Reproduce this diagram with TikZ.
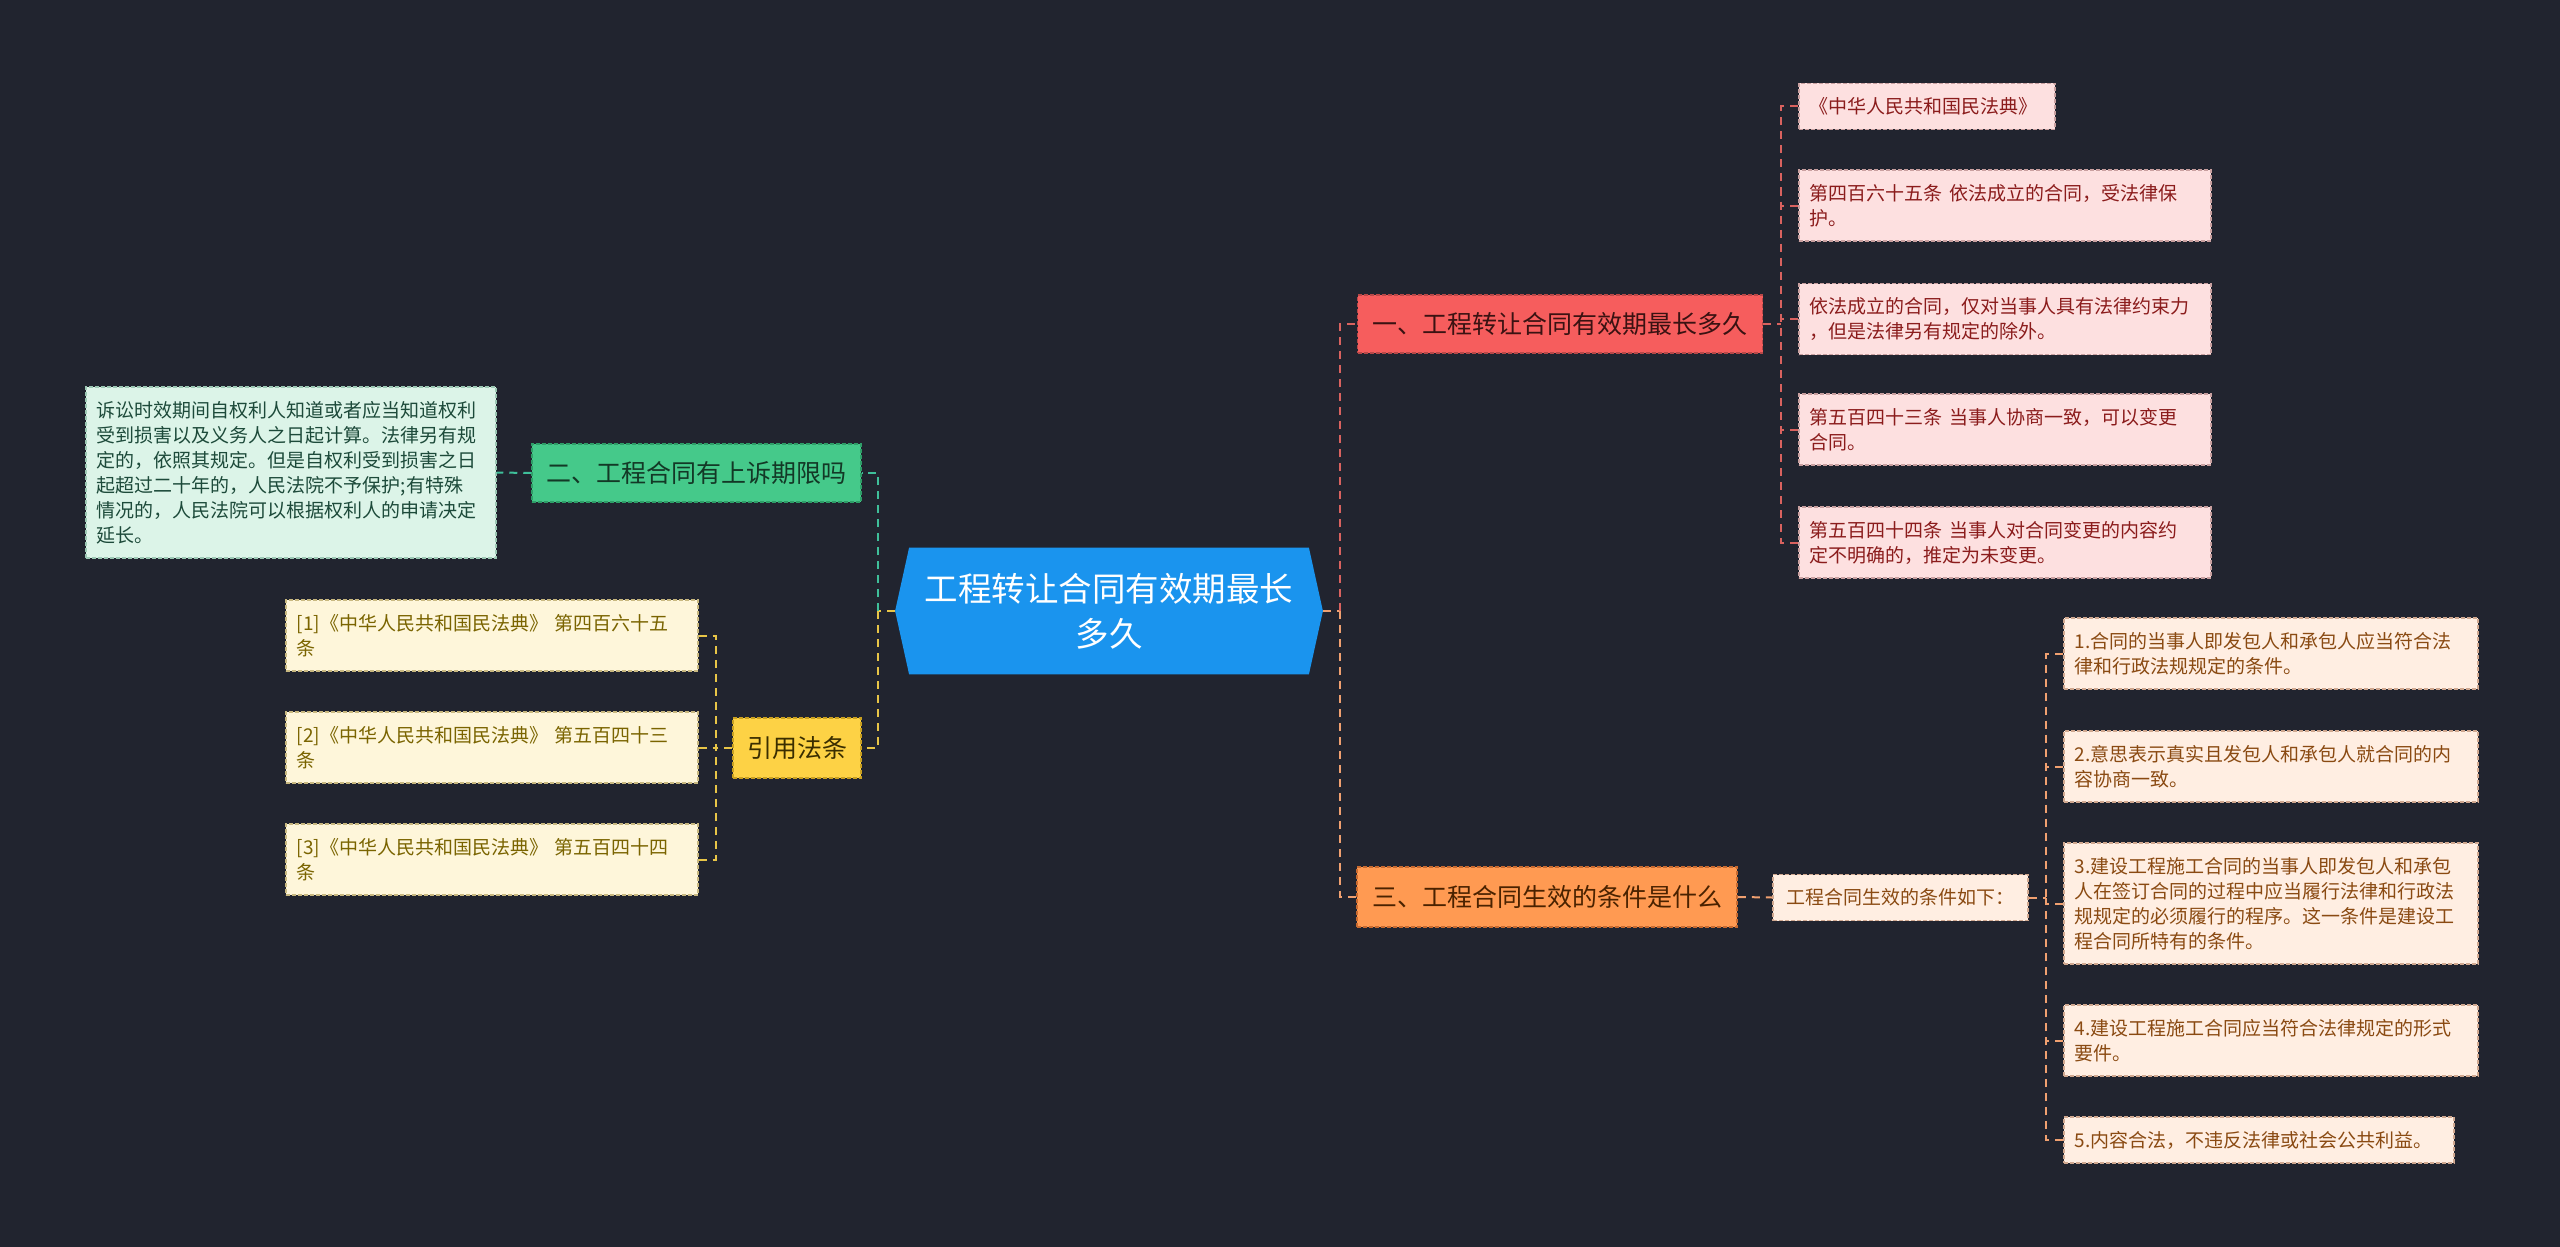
\documentclass[tikz,border=0pt]{standalone}
\usepackage{fontspec}
\setmainfont{Noto Sans CJK SC}
\usetikzlibrary{backgrounds}
\definecolor{bgc}{HTML}{21242F}
\definecolor{rootc}{HTML}{1A94EE}
\definecolor{redb}{HTML}{F65D5D}\definecolor{redl}{HTML}{FDE0E0}
\definecolor{redt}{HTML}{8B1C1C}\definecolor{redbt}{HTML}{3A1212}
\definecolor{redln}{HTML}{D9625F}\definecolor{redbd}{HTML}{B84848}\definecolor{redlbd}{HTML}{C9A0A0}
\definecolor{grnb}{HTML}{45C98A}\definecolor{grnl}{HTML}{DCF4E8}
\definecolor{grnt}{HTML}{1D4A3A}\definecolor{grnbt}{HTML}{133826}
\definecolor{grnln}{HTML}{3FBF9A}\definecolor{grnbd}{HTML}{2E9E68}\definecolor{grnlbd}{HTML}{9CC8B4}
\definecolor{ylwb}{HTML}{FDD245}\definecolor{ylwl}{HTML}{FEF6DA}
\definecolor{ylwt}{HTML}{7A6400}\definecolor{ylwbt}{HTML}{3A2E00}
\definecolor{ylwln}{HTML}{E8C547}\definecolor{ylwbd}{HTML}{C9A020}\definecolor{ylwlbd}{HTML}{C8B880}
\definecolor{orgb}{HTML}{FF9A52}\definecolor{orgl}{HTML}{FFEEE2}
\definecolor{orgt}{HTML}{8A4A12}\definecolor{orgbt}{HTML}{4A2200}
\definecolor{orgln}{HTML}{F0A070}\definecolor{orgbd}{HTML}{C86A30}\definecolor{orglbd}{HTML}{D0A890}
\begin{document}
\begin{tikzpicture}[x=0.5pt,y=-0.5pt,
  boxbase/.style={draw, line width=0.75pt, dash pattern=on 2pt off 1pt, inner sep=0pt},
  branchbox/.style={boxbase, minimum height=29pt, align=center,
    font=\fontsize{12.5pt}{15pt}\selectfont},
  leafbox/.style={boxbase, anchor=west, inner xsep=5.5pt, align=left,
    font=\fontsize{9.5pt}{12.5pt}\selectfont},
  lone/.style={leafbox, minimum height=23pt},
  ltwo/.style={leafbox, minimum height=35.5pt},
  conn/.style={line width=1pt, dash pattern=on 4pt off 3pt},
  redbranch/.style={branchbox, fill=redb, draw=redbd, text=redbt},
  redleaf/.style={fill=redl, draw=redlbd, text=redt},
  grnbranch/.style={branchbox, fill=grnb, draw=grnbd, text=grnbt},
  grnleaf/.style={fill=grnl, draw=grnlbd, text=grnt},
  ylwbranch/.style={branchbox, fill=ylwb, draw=ylwbd, text=ylwbt},
  ylwleaf/.style={fill=ylwl, draw=ylwlbd, text=ylwt},
  orgbranch/.style={branchbox, fill=orgb, draw=orgbd, text=orgbt},
  orgleaf/.style={fill=orgl, draw=orglbd, text=orgt},
  rootbox/.style={inner sep=0pt, minimum width=213.5pt, minimum height=63pt, align=center,
    text=white, font=\fontsize{16.75pt}{22.5pt}\selectfont}
]
\begin{scope}[on background layer]
\fill[bgc] (0,0) rectangle (2560,1247);
\end{scope}
\useasboundingbox (0,0) rectangle (2560,1247);

% root
\node[rootbox] (root) at (1109,611) {工程转让合同有效期最长\\多久};
\begin{scope}[on background layer]
\fill[rootc] ([xshift=7pt]root.north west) -- ([xshift=-7pt]root.north east) -- (root.east)
  -- ([xshift=-7pt]root.south east) -- ([xshift=7pt]root.south west) -- (root.west) -- cycle;
\end{scope}

% branches
\node[redbranch, minimum width=202.5pt] (b1) at (1560,324) {一、工程转让合同有效期最长多久};
\node[grnbranch, minimum width=164.5pt] (gb) at (696.5,473) {二、工程合同有上诉期限吗};
\node[ylwbranch, minimum width=64pt, minimum height=30pt] (yb) at (797,748) {引用法条};
\node[orgbranch, minimum width=190pt, minimum height=30pt] (b3) at (1547,897) {三、工程合同生效的条件是什么};
\node[leafbox, orgleaf, anchor=center, align=center, minimum width=127.5pt, minimum height=23pt] (sub) at (1900.5,897.5) {工程合同生效的条件如下：};

% red leaves
\node[lone, redleaf, text width=117pt] (r1) at (1798,106.5) {《中华人民共和国民法典》};
\node[ltwo, redleaf, text width=195pt] (r2) at (1798,205.5) {第四百六十五条 依法成立的合同，受法律保\\护。};
\node[ltwo, redleaf, text width=195pt] (r3) at (1798,319) {依法成立的合同，仅对当事人具有法律约束力\\，但是法律另有规定的除外。};
\node[ltwo, redleaf, text width=195pt] (r4) at (1798,429.5) {第五百四十三条 当事人协商一致，可以变更\\合同。};
\node[ltwo, redleaf, text width=195pt] (r5) at (1798,542.5) {第五百四十四条 当事人对合同变更的内容约\\定不明确的，推定为未变更。};

% green leaf
\node[leafbox, grnleaf, text width=194pt, minimum height=85.5pt] (g1) at (85,472.5) {诉讼时效期间自权利人知道或者应当知道权利\\受到损害以及义务人之日起计算。法律另有规\\定的，依照其规定。但是自权利受到损害之日\\起超过二十年的，人民法院不予保护;有特殊\\情况的，人民法院可以根据权利人的申请决定\\延长。};

% yellow leaves
\node[ltwo, ylwleaf, text width=195pt] (y1) at (285,635.5) {[1]《中华人民共和国民法典》 第四百六十五\\条};
\node[ltwo, ylwleaf, text width=195pt] (y2) at (285,747.5) {[2]《中华人民共和国民法典》 第五百四十三\\条};
\node[ltwo, ylwleaf, text width=195pt] (y3) at (285,859.5) {[3]《中华人民共和国民法典》 第五百四十四\\条};

% orange leaves
\node[ltwo, orgleaf, text width=196pt] (o1) at (2063,653.5) {1.合同的当事人即发包人和承包人应当符合法\\律和行政法规规定的条件。};
\node[ltwo, orgleaf, text width=196pt] (o2) at (2063,766.5) {2.意思表示真实且发包人和承包人就合同的内\\容协商一致。};
\node[leafbox, orgleaf, text width=196pt, minimum height=60.5pt] (o3) at (2063,903.5) {3.建设工程施工合同的当事人即发包人和承包\\人在签订合同的过程中应当履行法律和行政法\\规规定的必须履行的程序。这一条件是建设工\\程合同所特有的条件。};
\node[ltwo, orgleaf, text width=196pt] (o4) at (2063,1040.5) {4.建设工程施工合同应当符合法律规定的形式\\要件。};
\node[lone, orgleaf, text width=184pt] (o5) at (2063,1140) {5.内容合法，不违反法律或社会公共利益。};

% trunk coordinates
\coordinate (rt) at (1340,611);
\coordinate (lt) at (878,611);
\coordinate (rtk) at (1781,324);
\coordinate (otk) at (2046,897.5);
\coordinate (ytk) at (716,748);

% root connectors
\draw[conn, orgln] (root.east) -- (rt);
\draw[conn, redln] (rt) |- (b1.west);
\draw[conn, orgln] (rt) |- (b3.west);
\draw[conn, ylwln] (root.west) -- (lt);
\draw[conn, grnln] (lt) |- (gb.east);
\draw[conn, ylwln] (lt) |- (yb.east);

% red leaves connectors
\draw[conn, redln] (b1.east) -- (rtk);
\draw[conn, redln] (r1.west) -| (rtk);
\draw[conn, redln] (r5.west) -| (rtk);
\draw[conn, redln] (r2.west) -- (r2.west -| rtk);
\draw[conn, redln] (r3.west) -- (r3.west -| rtk);
\draw[conn, redln] (r4.west) -- (r4.west -| rtk);

% green
\draw[conn, grnln] (gb.west) -- (g1.east);

% yellow
\draw[conn, ylwln] (yb.west) -- (ytk);
\draw[conn, ylwln] (y1.east) -| (ytk);
\draw[conn, ylwln] (y3.east) -| (ytk);
\draw[conn, ylwln] (y2.east) -- (y2.east -| ytk);

% orange
\draw[conn, orgln] (b3.east) -- (sub.west);
\draw[conn, orgln] (sub.east) -- (otk);
\draw[conn, orgln] (o1.west) -| (otk);
\draw[conn, orgln] (o5.west) -| (otk);
\draw[conn, orgln] (o2.west) -- (o2.west -| otk);
\draw[conn, orgln] (o3.west) -- (o3.west -| otk);
\draw[conn, orgln] (o4.west) -- (o4.west -| otk);
\end{tikzpicture}
\end{document}
